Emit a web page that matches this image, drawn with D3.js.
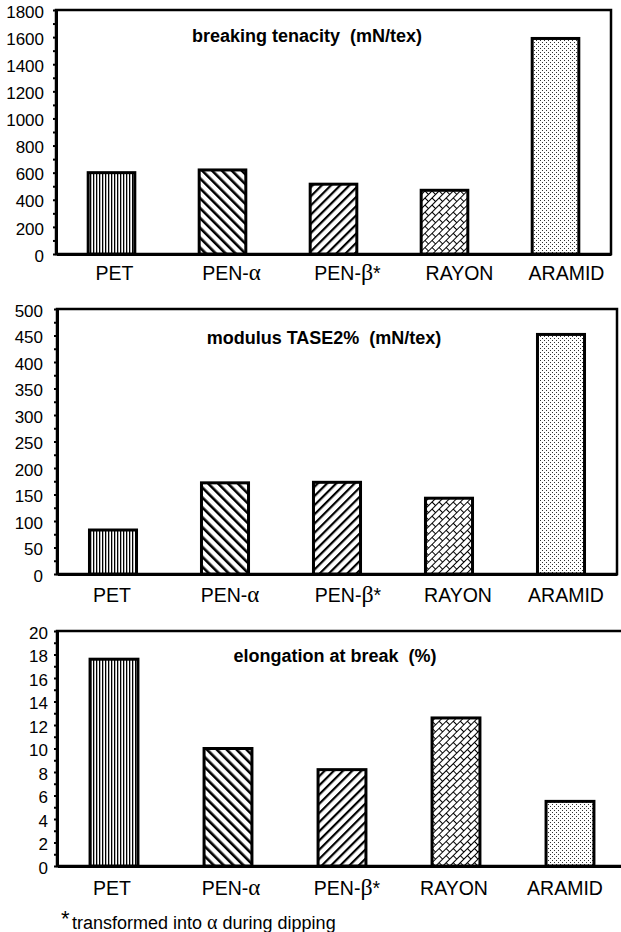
<!DOCTYPE html>
<html>
<head>
<meta charset="utf-8">
<script src="https://cdn.jsdelivr.net/npm/d3@7"></script>
<style>
  body { margin: 0; background: #fff; }
  svg { display: block; font-family: "Liberation Sans", Arial, sans-serif; }
</style>
</head>
<body>
<svg id="chart"></svg>
<script>
// data
const categories = ["PET", "PEN-α", "PEN-β*", "RAYON", "ARAMID"];
const patterns = ["pet", "penA", "penB", "rayon", "aramid"];

const tenacity = [600, 620, 515, 470, 1590];
const modulus = [83, 172, 173, 143, 452];
const elongation = [17.6, 10.0, 8.2, 12.6, 5.5];

const tenacityTicks = [0, 200, 400, 600, 800, 1000, 1200, 1400, 1600, 1800];
const modulusTicks = [0, 50, 100, 150, 200, 250, 300, 350, 400, 450, 500];
const elongationTicks = [0, 2, 4, 6, 8, 10, 12, 14, 16, 18, 20];

const titles = ["breaking tenacity  (mN/tex)", "modulus TASE2%  (mN/tex)", "elongation at break  (%)"];
const footnote = "transformed into α during dipping";

// panel layout (pixels); labelDx nudges the category labels like the original
const panels = [
  {left: 56, right: 611, top: 10, bottom: 254, pad: 9, titleX: 307, titleY: 42, labelY: 26,
   labelDx: [3, 9, 14, 15, 11]},
  {left: 57, right: 617, top: 309, bottom: 574, pad: 11, titleX: 324, titleY: 344, labelY: 28,
   labelDx: [-1, 5, 11, 9, 5]},
  {left: 57, right: 627, top: 631, bottom: 866, pad: 6, titleX: 335, titleY: 662, labelY: 29,
   labelDx: [-2, 3, 5, -2, -5]}
];

const svg = d3.select('#chart')
    .attr('width', 621)
    .attr('height', 932);

// fill patterns
const defs = svg.append('defs');
function makePattern(id, w, h, rot) {
  const p = defs.append('pattern')
      .attr('id', id)
      .attr('patternUnits', 'userSpaceOnUse')
      .attr('width', w)
      .attr('height', h);
  if (rot) p.attr('patternTransform', `rotate(${rot})`);
  p.append('rect').attr('width', w).attr('height', h).attr('fill', '#fff');
  return p;
}

makePattern('pet', 3, 3).append('rect')
    .attr('width', 1.3).attr('height', 3).attr('fill', '#000');

makePattern('penA', 7, 7, -45).append('rect')
    .attr('width', 2.6).attr('height', 7).attr('fill', '#000');

makePattern('penB', 6.5, 6.5, 45).append('rect')
    .attr('width', 2.2).attr('height', 6.5).attr('fill', '#000');

makePattern('rayon', 10, 10, -45).append('path')
    .attr('d', 'M0,0.5H10M0,5.5H10M0.5,0V5.5M5.5,5.5V10')
    .attr('stroke', '#000')
    .attr('stroke-width', 1)
    .attr('fill', 'none');

const ar = makePattern('aramid', 4, 4);
ar.append('rect').attr('x', 0).attr('y', 0).attr('width', 1).attr('height', 1).attr('fill', '#333');
ar.append('rect').attr('x', 2).attr('y', 2).attr('width', 1).attr('height', 1).attr('fill', '#333');

function drawPanel(cfg, values, ticks, title) {
  const g = svg.append('g');

  const x = d3.scaleBand()
      .domain(categories)
      .range([cfg.left, cfg.right]);
  const y = d3.scaleLinear()
      .domain([0, ticks[ticks.length - 1]])
      .range([cfg.bottom, cfg.top]);

  // frame
  g.append('rect')
      .attr('x', cfg.left)
      .attr('y', cfg.top)
      .attr('width', cfg.right - cfg.left)
      .attr('height', cfg.bottom - cfg.top)
      .attr('fill', 'none')
      .attr('stroke', '#000')
      .attr('stroke-width', 2.5);

  // bars
  const bw = x.bandwidth() * 0.42;
  g.selectAll('.bar')
    .data(values)
    .join('rect')
      .attr('class', 'bar')
      .attr('x', (d, i) => x(categories[i]) + (x.bandwidth() - bw) / 2)
      .attr('y', d => y(d))
      .attr('width', bw)
      .attr('height', d => cfg.bottom - y(d))
      .attr('fill', (d, i) => `url(#${patterns[i]})`)
      .attr('stroke', '#000')
      .attr('stroke-width', 3);

  // minor ticks halfway between labels
  const minor = d3.pairs(ticks).map(([a, b]) => (a + b) / 2);
  g.append('g')
      .attr('transform', `translate(${cfg.left},0)`)
      .call(d3.axisLeft(y).tickValues(minor).tickSize(3).tickFormat(''))
      .call(a => a.select('.domain').remove())
      .call(a => a.selectAll('line').attr('stroke-width', 2));

  // y axis
  g.append('g')
      .attr('transform', `translate(${cfg.left},0)`)
      .call(d3.axisLeft(y).tickValues(ticks).tickFormat(d3.format('d'))
          .tickSize(3).tickSizeOuter(0).tickPadding(cfg.pad))
      .call(a => a.select('.domain').attr('stroke-width', 3))
      .call(a => a.selectAll('line').attr('stroke-width', 2))
      .call(a => a.selectAll('text')
          .attr('font-family', '"Liberation Sans", Arial, sans-serif')
          .attr('font-size', 17)
          .attr('fill', '#000')
          .attr('dy', '0.42em'));

  // x axis
  const xa = g.append('g')
      .attr('transform', `translate(0,${cfg.bottom})`)
      .call(d3.axisBottom(x).tickSize(0).tickSizeOuter(0))
      .call(a => a.select('.domain').attr('stroke-width', 3));

  xa.selectAll('text').each(function(d, i) {
    const t = d3.select(this)
        .text(null)
        .attr('x', cfg.labelDx[i])
        .attr('y', cfg.labelY)
        .attr('dy', 0)
        .attr('font-family', '"Liberation Sans", Arial, sans-serif')
        .attr('font-size', 19.5)
        .attr('fill', '#000');
    const m = d.match(/^(.*?)([αβ])(\*?)$/);
    if (!m) { t.text(d); return; }
    t.append('tspan').text(m[1]);
    t.append('tspan')
        .attr('font-family', '"Liberation Serif", "Times New Roman", serif')
        .attr('font-size', m[2] === 'β' ? 24 : 23)
        .text(m[2]);
    if (m[3]) t.append('tspan').text(m[3]);
  });

  // title
  g.append('text')
      .attr('x', cfg.titleX)
      .attr('y', cfg.titleY)
      .attr('text-anchor', 'middle')
      .attr('font-weight', 'bold')
      .attr('font-size', 18)
      .style('white-space', 'pre')
      .text(title);
}

drawPanel(panels[0], tenacity, tenacityTicks, titles[0]);
drawPanel(panels[1], modulus, modulusTicks, titles[1]);
drawPanel(panels[2], elongation, elongationTicks, titles[2]);

// footnote
svg.append('text')
    .attr('x', 61)
    .attr('y', 926)
    .attr('font-size', 22)
    .text('*');

const fn = svg.append('text')
    .attr('x', 72)
    .attr('y', 929)
    .attr('font-size', 18);
const parts = footnote.split('α');
fn.append('tspan').text(parts[0]);
fn.append('tspan')
    .attr('font-family', '"Liberation Serif", "Times New Roman", serif')
    .attr('font-size', 20)
    .text('α');
fn.append('tspan').text(parts[1]);
</script>
</body>
</html>
